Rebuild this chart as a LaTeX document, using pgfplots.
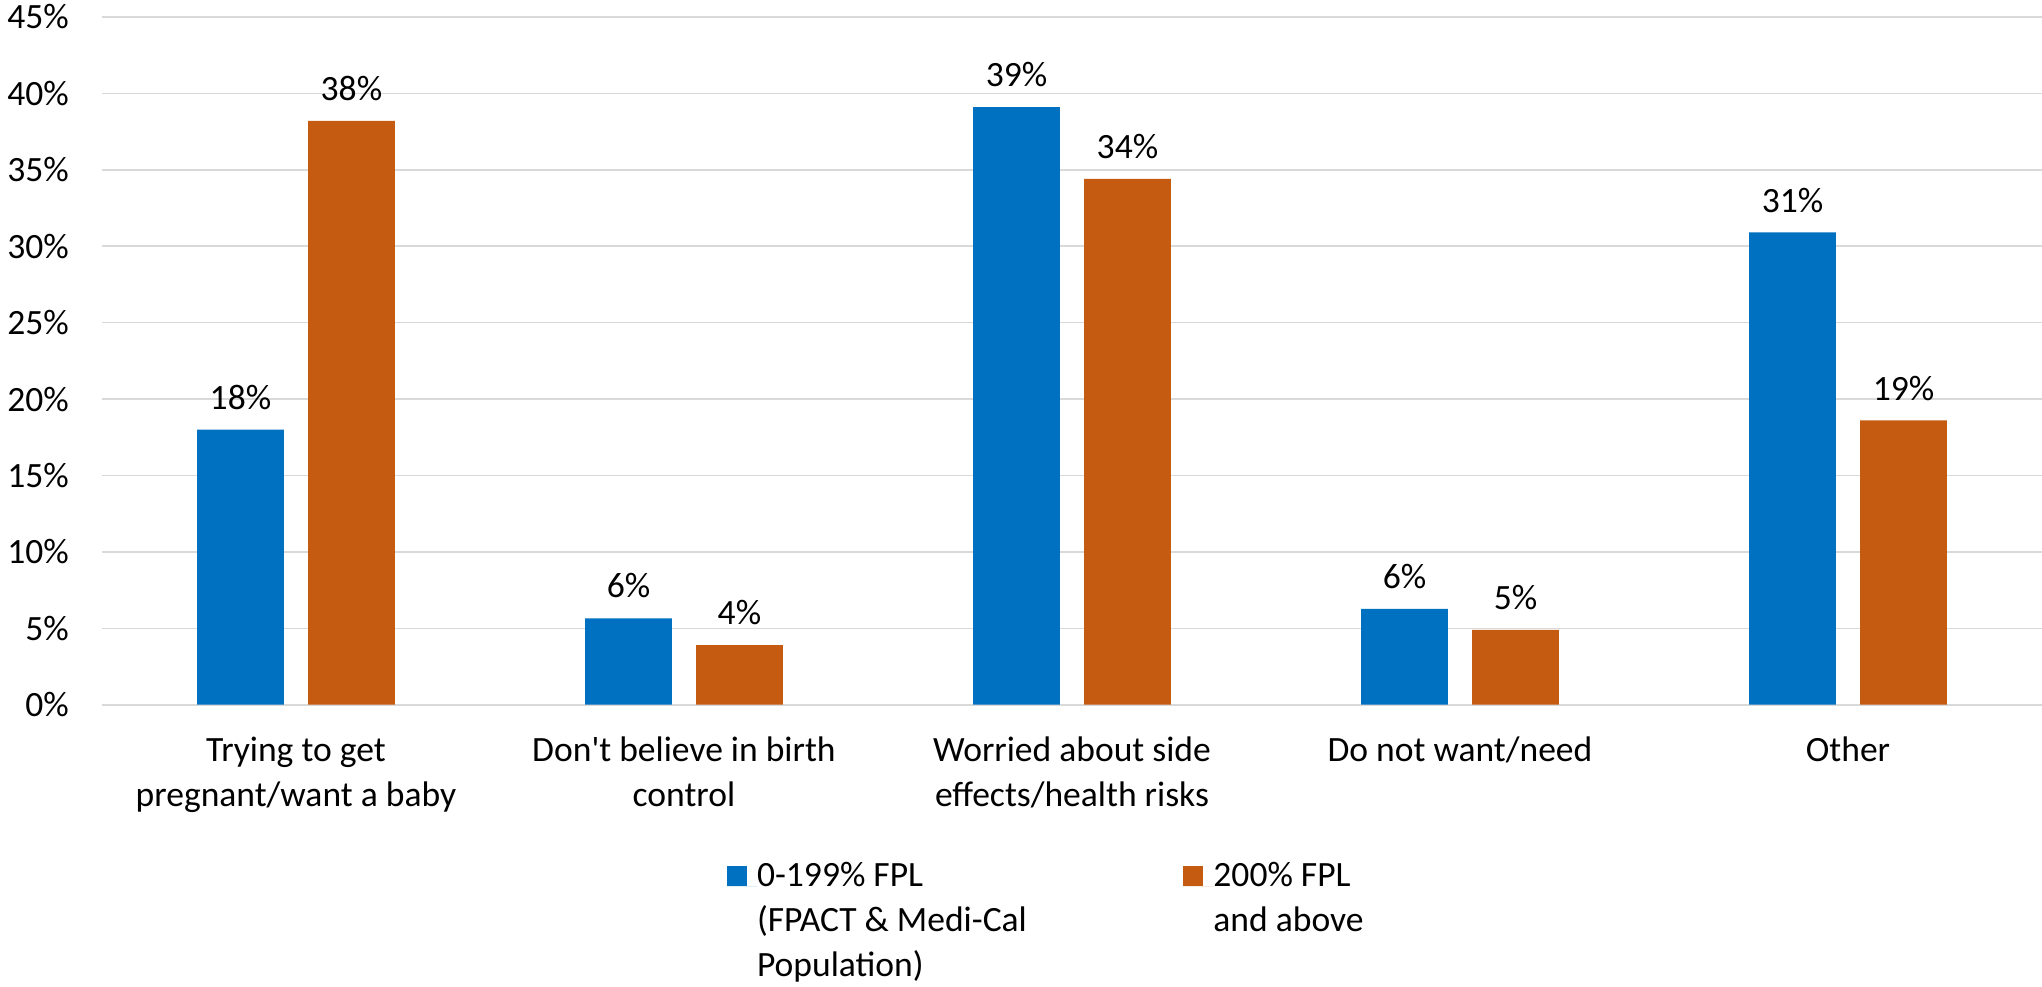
\documentclass[border=0pt]{standalone}
\usepackage{pgfplots}
\pgfplotsset{compat=1.18}
\usepackage{fontspec}
\setmainfont{Carlito}

\definecolor{fplLow}{HTML}{0070C0}
\definecolor{fplHigh}{HTML}{C55A11}
\definecolor{gridgray}{HTML}{D9D9D9}

\newcommand{\chartfont}{\fontsize{12.8}{16.2}\selectfont}

\begin{document}
\begin{tikzpicture}[font=\chartfont]
\path[use as bounding box] (-36.7pt,-101.6pt) rectangle (698.4pt,253.7pt);
\begin{axis}[
  at={(0,0)}, anchor=south west,
  scale only axis,
  width=698.4pt, height=247.6pt,
  ybar,
  xmin=-0.5, xmax=4.5,
  ymin=0, ymax=45,
  ytick={0,5,...,45},
  xtick={0,1,2,3,4},
  xticklabels={
    {Trying to get\\pregnant/want a baby},
    {Don\textquotesingle t believe in birth\\control},
    {Worried about side\\effects/health risks},
    {Do not want/need},
    {Other}},
  axis line style={draw=none},
  major tick length=0pt,
  ymajorgrids,
  grid style={gridgray, line width=0.55pt},
  /pgf/number format/assume math mode=true,
  yticklabel={\pgfmathprintnumber{\tick}\%},
  yticklabel style={font=\chartfont, xshift=-8.4pt},
  xticklabel style={font=\chartfont, align=center, yshift=-8.1pt},
  bar width=0.2234,
  legend columns=2,
  legend image code/.code={
    \fill[#1] (0pt,0pt) rectangle (7.2pt,7.2pt);
    \path (0pt,0pt) -- (10.8pt,0pt);
  },
  legend style={
    draw=none, fill=none,
    inner sep=0pt, outer sep=0pt,
    at={(0.3222,-0.2283)}, anchor=north west,
    font=\chartfont,
    nodes={inner sep=0pt},
    cells={anchor=base west},
    /tikz/column sep=0pt,
  },
  nodes near coords={\pgfmathprintnumber[fixed,precision=0]{\pgfplotspointmeta}\%},
  point meta=y,
  every node near coord/.append style={font=\chartfont, text=black, anchor=south, yshift=3.7pt},
]
% 0-199% FPL (FPACT & Medi-Cal population)
\addplot[bar shift=-0.143, fill=fplLow, draw=none]
  coordinates {(0,18.0) (1,5.65) (2,39.1) (3,6.28) (4,30.9)};
% 200% FPL and above
\addplot[bar shift=0.143, fill=fplHigh, draw=none]
  coordinates {(0,38.2) (1,3.9) (2,34.4) (3,4.9) (4,18.6)};
\legend{\parbox[t]{153.5pt}{0-199\% FPL\\(FPACT \& Medi-Cal\\Population)},
        \parbox[t]{70pt}{200\% FPL\\and above}}
\end{axis}
\end{tikzpicture}
\end{document}
